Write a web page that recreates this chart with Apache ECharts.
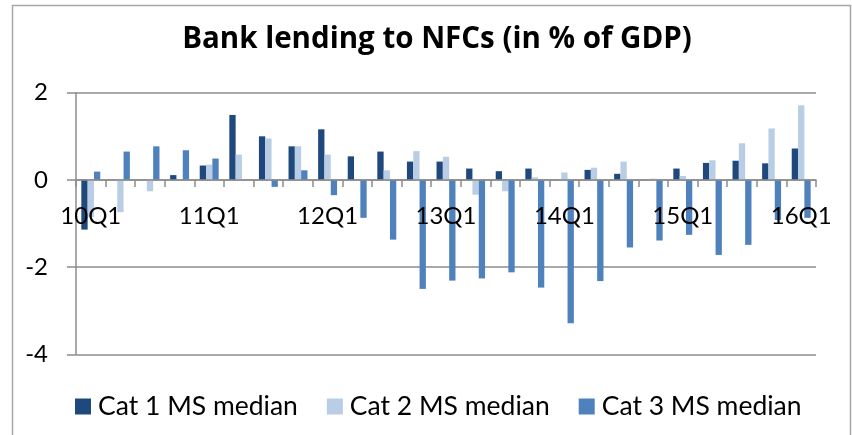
<!DOCTYPE html>
<html>
<head>
<meta charset="utf-8">
<script src="https://cdn.jsdelivr.net/npm/echarts@6/dist/echarts.min.js"></script>
<style>
  html, body { margin: 0; padding: 0; background: #ffffff; }
  #chart { width: 852px; height: 435px; }
</style>
</head>
<body>
<div id="chart"></div>
<script>
// Quarters 2010Q1 .. 2016Q1
const quarters = ['10Q1','10Q2','10Q3','10Q4','11Q1','11Q2','11Q3','11Q4','12Q1','12Q2','12Q3','12Q4',
  '13Q1','13Q2','13Q3','13Q4','14Q1','14Q2','14Q3','14Q4','15Q1','15Q2','15Q3','15Q4','16Q1'];

const seriesNames = ['Cat 1 MS median', 'Cat 2 MS median', 'Cat 3 MS median'];

const cat1 = [-1.14, 0, 0, 0.11, 0.33, 1.49, 1.00, 0.77, 1.16, 0.54, 0.65, 0.42,
  0.42, 0.26, 0.20, 0.26, 0, 0.23, 0.14, 0, 0.26, 0.39, 0.44, 0.38, 0.72];
const cat2 = [-0.85, -0.74, -0.26, 0, 0.35, 0.58, 0.95, 0.77, 0.58, 0, 0.22, 0.66,
  0.53, -0.34, -0.26, 0.06, 0.17, 0.28, 0.42, 0.03, 0.09, 0.45, 0.84, 1.18, 1.71];
const cat3 = [0.19, 0.65, 0.77, 0.68, 0.49, 0, -0.16, 0.22, -0.35, -0.87, -1.37, -2.50,
  -2.31, -2.26, -2.12, -2.47, -3.29, -2.32, -1.55, -1.39, -1.26, -1.72, -1.49, -0.92, -0.87];

const colors = ['#1f497d', '#b9cde5', '#4f81bd'];
const font = 'Lato, "Open Sans", sans-serif';

// plot area geometry: value axis runs -4..2 over the grid height
const gridTop = 92.7;
const gridBottom = 80.7;
const plotHeight = 435 - gridTop - gridBottom;
const yMin = -4, yMax = 2;
// lift the category axis so it sits on the zero line
const zeroOffset = -plotHeight * (0 - yMin) / (yMax - yMin);

const chart = echarts.init(document.getElementById('chart'), null, { renderer: 'canvas' });

chart.setOption({
  animation: false,
  backgroundColor: '#ffffff',
  color: colors,
  title: {
    text: 'Bank lending to NFCs (in % of GDP)',
    left: 432,
    textAlign: 'center',
    top: 20,
    textStyle: { fontFamily: '"Open Sans", sans-serif', fontWeight: 'bold', fontSize: 29.5, color: '#000000' }
  },
  graphic: [{
    type: 'rect',
    shape: { x: 12.5, y: 5.5, width: 838, height: 440 },
    style: { fill: 'none', stroke: '#a6a6a6', lineWidth: 1.5 },
    silent: true
  }],
  legend: {
    left: 70,
    top: 388,
    itemWidth: 16,
    itemHeight: 16,
    itemGap: 29,
    icon: 'rect',
    textStyle: { fontFamily: font, fontSize: 26.5, color: '#000000', padding: [0, 0, 0, 2] },
    data: seriesNames
  },
  grid: { left: 76, right: 36, top: gridTop, bottom: gridBottom, containLabel: false },
  xAxis: {
    type: 'category',
    data: quarters,
    z: 10,
    position: 'bottom',
    offset: zeroOffset,
    axisLine: { onZero: false, lineStyle: { color: '#8c8c8c', width: 1.5 } },
    axisTick: { show: true, interval: 0, length: 7, lineStyle: { color: '#8c8c8c', width: 1.5 } },
    axisLabel: { interval: 3, margin: 24, fontFamily: font, fontSize: 24, color: '#000000' },
    splitLine: { show: false }
  },
  yAxis: {
    type: 'value',
    min: yMin,
    max: yMax,
    interval: 2,
    axisLine: { show: true, lineStyle: { color: '#8c8c8c', width: 1.5 } },
    axisTick: { show: true, length: 9, lineStyle: { color: '#8c8c8c', width: 1.5 } },
    axisLabel: { margin: 28, fontFamily: font, fontSize: 24, color: '#000000' },
    splitLine: { show: true, lineStyle: { color: '#8c8c8c', width: 1.5 } }
  },
  series: [
    { name: seriesNames[0], type: 'bar', data: cat1, barGap: '0%', barCategoryGap: '36%' },
    { name: seriesNames[1], type: 'bar', data: cat2, barGap: '0%', barCategoryGap: '36%' },
    { name: seriesNames[2], type: 'bar', data: cat3, barGap: '0%', barCategoryGap: '36%' }
  ]
});
</script>
</body>
</html>
